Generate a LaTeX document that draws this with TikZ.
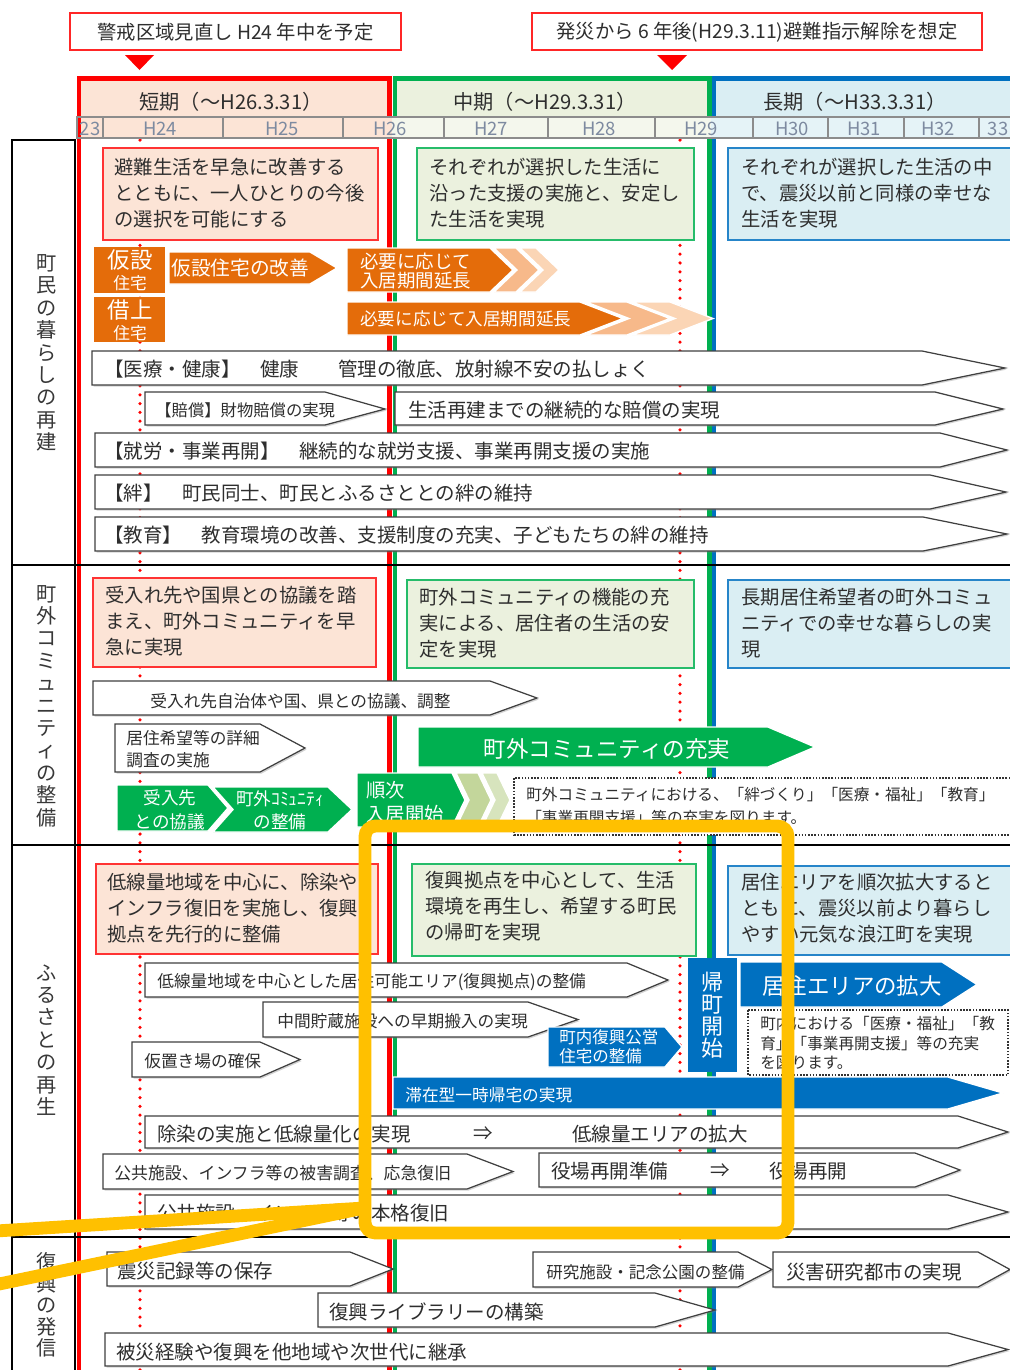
\documentclass[tikz,border=0pt]{standalone}
\usepackage{fontspec}
\setmainfont{Noto Sans CJK JP}
\usetikzlibrary{shadows}

\definecolor{shortred}{RGB}{255,0,0}
\definecolor{midgreen}{RGB}{0,176,80}
\definecolor{longblue}{RGB}{0,112,192}
\definecolor{shortfill}{RGB}{252,228,214}
\definecolor{midfill}{RGB}{235,241,222}
\definecolor{longfill}{RGB}{218,238,243}
\definecolor{orangeA}{RGB}{228,108,10}
\definecolor{orangeB}{RGB}{247,185,138}
\definecolor{orangeC}{RGB}{251,213,181}
\definecolor{greenB}{RGB}{195,214,155}
\definecolor{greenC}{RGB}{215,228,189}
\definecolor{markyellow}{RGB}{255,192,0}
\definecolor{yeargray}{RGB}{125,138,160}

\begin{document}
\begin{tikzpicture}[x=0.02cm, y=-0.02cm,
    goalshort/.style={draw=shortred!80, fill=shortfill, line width=0.8pt},
    goalmid/.style={draw=midgreen!85, fill=midfill, line width=0.8pt},
    goallong/.style={draw=longblue!85, fill=longfill, line width=0.8pt},
    goaltxt/.style={anchor=west, inner sep=0pt, align=left, text=black!82, font=\fontsize{11}{14.8}\selectfont},
    wbar/.style={draw=black!75, fill=white, line width=0.7pt, drop shadow={shadow xshift=0.9pt, shadow yshift=-0.9pt, opacity=0.35}},
    obar/.style={fill=orangeA, draw=white, line width=0.8pt},
    obarB/.style={fill=orangeB, draw=white, line width=0.8pt},
    obarC/.style={fill=orangeC, draw=white, line width=0.8pt},
    gbar/.style={fill=midgreen, draw=white, line width=0.8pt},
    bbar/.style={fill=longblue, draw=white, line width=0.8pt},
    atxt/.style={anchor=west, inner sep=0pt, text=black!82, font=\fontsize{11.1}{13}\selectfont},
    stxt/.style={anchor=west, inner sep=0pt, align=left, text=black!82, font=\fontsize{9.5}{12.5}\selectfont},
    ntxt/.style={anchor=west, inner sep=0pt, align=left, text=black!82, font=\fontsize{8.9}{11}\selectfont},
    wtxt/.style={inner sep=0pt, text=white, font=\fontsize{11}{13}\selectfont},
    notebox/.style={draw=black!80, fill=white, line width=0.6pt, dash pattern=on 0.9pt off 0.9pt},
    reddots/.style={shortred, line width=2pt, line cap=round, dash pattern=on 0pt off 5pt},
    markline/.style={markyellow, line width=7.3pt, line cap=round},
    vlabel/.style={align=center, inner sep=0pt, text=black!78, font=\fontsize{11.5}{12.75}\selectfont},
    ytext/.style={inner sep=0pt, text=yeargray, font=\fontsize{10.5}{11}\selectfont},
    yeargrid/.style={draw=black!45, line width=0.7pt},
    toptxt/.style={inner sep=0pt, text=black!82, font=\fontsize{11}{13}\selectfont},
  ]
\useasboundingbox (0,0) rectangle (1010,1370);
\fill[white] (0,0) rectangle (1010,1370);

% top notes
\draw[shortred!85, line width=0.8pt] (70,13) rectangle (401,50);
\node[toptxt] (keikai) at (235.5,32) {警戒区域見直し H24 年中を予定};
\fill[shortred] (125,55) -- (154,55) -- (139.5,70) -- cycle;
\draw[shortred!85, line width=0.8pt] (532,13) rectangle (982,50);
\node[toptxt] (kaijo) at (757,32) {発災から 6 年後(H29.3.11)避難指示解除を想定};
\fill[shortred] (657,55) -- (687,55) -- (672,70) -- cycle;

% phase headers
\fill[shortfill] (81,81) rectangle (388,138);
\fill[midfill] (396,81) rectangle (708,138);
\fill[longfill] (714,81) rectangle (1012,138);
\node[toptxt, font=\fontsize{11.5}{13}\selectfont] (tanki) at (231,102) {短期（～H26.3.31）};
\node[toptxt, font=\fontsize{11.5}{13}\selectfont] (chuki) at (545,102) {中期（～H29.3.31）};
\node[toptxt, font=\fontsize{11.5}{13}\selectfont] (choki) at (855,102) {長期（～H33.3.31）};

\draw[reddots] (140,140) -- (140,1370);
\draw[reddots] (680,140) -- (680,1370);

\draw[longblue, line width=2.8pt] (714,1372) -- (714,78.5) -- (1015,78.5);
\draw[shortred, line width=2.8pt] (79,1372) -- (79,78.5) -- (389.5,78.5) -- (389.5,1372);
\draw[midgreen, line width=2.8pt] (395,1372) -- (395,78.5) -- (709.5,78.5) -- (709.5,1372);

% year row
\fill[shortfill] (82,117) rectangle (392,138);
\fill[midfill!55!white] (392,117) rectangle (711,138);
\fill[longfill!70!white] (711,117) rectangle (1015,138);
\foreach \a/\b in {77/103,103/223,223/343,343/444,444/548,548/655,655/753,753/828,828/904,904/979,979/1015}
  \draw[yeargrid] (\a,117) rectangle (\b,138);
\foreach \x/\yr [count=\i] in {90/23,160/H24,282/H25,390/H26,491/H27,599/H28,701/H29,792/H30,864/H31,938/H32,998/33}
  \node[ytext] (yr\i) at (\x,128.5) {\yr};

\draw[black, line width=0.8pt] (12,1375) -- (12,140) -- (75,140) -- (75,1375);
\foreach \y in {565,845,1237}
  \draw[black, line width=1.2pt] (12,\y) -- (1015,\y);

\node[vlabel] (rowA) at (47,353) {町\\民\\の\\暮\\ら\\し\\の\\再\\建};
\node[vlabel] (rowB) at (47,706) {町\\外\\コ\\ミ\\ュ\\ニ\\テ\\ィ\\の\\整\\備};
\node[vlabel] (rowC) at (47,1040) {ふ\\る\\さ\\と\\の\\再\\生};
\node[vlabel, font=\fontsize{11.5}{12.2}\selectfont] (rowD) at (47,1305) {復\\興\\の\\発\\信};

% row 1
\draw[goalshort] (103,148) rectangle (378,240);
\node[goaltxt] (goalA1) at (114,193) {避難生活を早急に改善する\\とともに、一人ひとりの今後\\の選択を可能にする};
\draw[goalmid] (417,148) rectangle (694,240);
\node[goaltxt] (goalA2) at (429,193) {それぞれが選択した生活に\\沿った支援の実施と、安定し\\た生活を実現};
\draw[goallong] (728,148) rectangle (1015,240);
\node[goaltxt] (goalA3) at (741,193) {それぞれが選択した生活の中\\で、震災以前と同様の幸せな\\生活を実現};

\fill[orangeA] (94,247) rectangle (165,293);
\node[wtxt, font=\fontsize{12.8}{14}\selectfont] (kasetsu) at (130,260) {仮設};
\node[wtxt, font=\fontsize{9.5}{11}\selectfont] (kasetsuB) at (130,283) {住宅};
\fill[orangeA] (94,297) rectangle (165,342);
\node[wtxt, font=\fontsize{12.8}{14}\selectfont] (kariage) at (130,310) {借上};
\node[wtxt, font=\fontsize{9.5}{11}\selectfont] (kariageB) at (130,333) {住宅};
\draw[obar] (169,252) -- (310,252) -- (337,268) -- (310,284) -- (169,284) -- cycle;
\node[wtxt, anchor=west, font=\fontsize{11.2}{13}\selectfont] (kaizen) at (171,268) {仮設住宅の改善};
\draw[obar] (347,248) -- (490,248) -- (513,270) -- (490,292) -- (347,292) -- cycle;
\draw[obarB] (494,248) -- (516,248) -- (539,270) -- (516,292) -- (494,292) -- (517,270) -- cycle;
\draw[obarC] (520,248) -- (536,248) -- (559,270) -- (536,292) -- (520,292) -- (543,270) -- cycle;
\node[wtxt, anchor=west, align=left, font=\fontsize{10.5}{11.3}\selectfont] (enchoA) at (360,271) {必要に応じて\\入居期間延長};
\draw[obar] (347,302) -- (580,302) -- (623,318.5) -- (580,335) -- (347,335) -- cycle;
\draw[obarB] (586,302) -- (627,302) -- (670,318.5) -- (627,335) -- (586,335) -- (629,318.5) -- cycle;
\draw[obarC] (632,302) -- (670,302) -- (713,318.5) -- (670,335) -- (632,335) -- (675,318.5) -- cycle;
\node[wtxt, anchor=west, font=\fontsize{10}{12}\selectfont] (enchoB) at (360,319) {必要に応じて入居期間延長};

\draw[wbar] (92,351) -- (922,351) -- (1005,368) -- (922,385) -- (92,385) -- cycle;
\node[atxt] (iryo) at (104,369) {【医療・健康】　健康　　管理の徹底、放射線不安の払しょく};
\draw[wbar] (145,392) -- (325,392) -- (385,409) -- (325,425) -- (145,425) -- cycle;
\node[stxt, font=\fontsize{9.3}{11}\selectfont] (baishoA) at (155,410) {【賠償】財物賠償の実現};
\draw[wbar] (395,392) -- (935,392) -- (1003,409) -- (935,425) -- (395,425) -- cycle;
\node[atxt] (baishoB) at (408,410) {生活再建までの継続的な賠償の実現};
\draw[wbar] (95,433) -- (940,433) -- (1007,450) -- (940,467) -- (95,467) -- cycle;
\node[atxt] (shuro) at (104,451) {【就労・事業再開】　継続的な就労支援、事業再開支援の実施};
\draw[wbar] (95,475) -- (930,475) -- (1006,492) -- (930,509) -- (95,509) -- cycle;
\node[atxt] (kizuna) at (104,493) {【絆】　町民同士、町民とふるさととの絆の維持};
\draw[wbar] (95,517) -- (923,517) -- (1007,534) -- (923,551) -- (95,551) -- cycle;
\node[atxt] (kyoiku) at (104,535) {【教育】　教育環境の改善、支援制度の充実、子どもたちの絆の維持};

% row 2
\draw[goalshort] (93,578) rectangle (376,667);
\node[goaltxt] (goalB1) at (105,621) {受入れ先や国県との協議を踏\\まえ、町外コミュニティを早\\急に実現};
\draw[goalmid] (407,580) rectangle (694,668);
\node[goaltxt] (goalB2) at (419,623) {町外コミュニティの機能の充\\実による、居住者の生活の安\\定を実現};
\draw[goallong] (728,580) rectangle (1015,668);
\node[goaltxt] (goalB3) at (741,623) {長期居住希望者の町外コミュ\\ニティでの幸せな暮らしの実\\現};

\draw[wbar] (93,681) -- (490,681) -- (537,698) -- (490,715) -- (93,715) -- cycle;
\node[stxt] (kyogi) at (150,701) {受入れ先自治体や国、県との協議、調整};
\draw[wbar] (115,724) -- (260,724) -- (305,748) -- (260,772) -- (115,772) -- cycle;
\node[stxt] (chosa) at (126,749) {居住希望等の詳細\\調査の実施};
\draw[gbar] (418,727) -- (768,727) -- (815,747) -- (768,767) -- (418,767) -- cycle;
\node[wtxt, font=\fontsize{12.8}{14}\selectfont] (juujitsu) at (607,749) {町外コミュニティの充実};
\draw[gbar] (117,785) -- (208,785) -- (228,808) -- (208,831) -- (117,831) -- cycle;
\node[wtxt, align=center, font=\fontsize{10}{13.6}\selectfont] (ukeire) at (170,810) {受入先\\との協議};
\draw[gbar] (213,787) -- (328,787) -- (352,809.5) -- (328,832) -- (213,832) -- (233,809.5) -- cycle;
\node[wtxt, align=center, font=\fontsize{10}{13}\selectfont] (seibi) at (280,810) {町外ｺﾐｭﾆﾃｨ\\の整備};
\draw[gbar] (357,773) -- (452,773) -- (465,800) -- (452,827) -- (357,827) -- cycle;
\draw[gbar, fill=greenB] (456,773) -- (478,773) -- (491,800) -- (478,827) -- (456,827) -- (469,800) -- cycle;
\draw[gbar, fill=greenC] (482,773) -- (497,773) -- (510,800) -- (497,827) -- (482,827) -- (495,800) -- cycle;
\node[wtxt, anchor=west, align=left, font=\fontsize{11}{14}\selectfont] (junji) at (366,802) {順次\\入居開始};
\draw[notebox] (514,778) rectangle (1015,835);
\node[ntxt, font=\fontsize{8.9}{13}\selectfont] (noteB) at (526,806) {町外コミュニティにおける、「絆づくり」「医療・福祉」「教育」\\「事業再開支援」等の充実を図ります。};

% row 3
\draw[goalshort] (96,864) rectangle (378,954);
\node[goaltxt] (goalC1) at (107,908) {低線量地域を中心に、除染や\\インフラ復旧を実施し、復興\\拠点を先行的に整備};
\draw[goalmid] (412,864) rectangle (696,956);
\node[goaltxt] (goalC2) at (425,906) {復興拠点を中心として、生活\\環境を再生し、希望する町民\\の帰町を実現};
\draw[goallong] (728,866) rectangle (1015,955);
\node[goaltxt] (goalC3) at (741,908) {居住エリアを順次拡大すると\\ともに、震災以前より暮らし\\やすい元気な浪江町を実現};

\draw[wbar] (145,963) -- (627,963) -- (668,980) -- (627,997) -- (145,997) -- cycle;
\node[stxt] (kyoten) at (157,982) {低線量地域を中心とした居住可能エリア(復興拠点)の整備};
\draw[wbar] (263,1002) -- (528,1002) -- (578,1019.5) -- (528,1037) -- (263,1037) -- cycle;
\node[stxt] (chukan) at (277,1021) {中間貯蔵施設への早期搬入の実現};
\draw[wbar] (132,1042) -- (260,1042) -- (300,1059.5) -- (260,1077) -- (132,1077) -- cycle;
\node[stxt] (karioki) at (144,1061) {仮置き場の確保};
\draw[bbar] (548,1027) -- (665,1027) -- (682,1047) -- (665,1067) -- (548,1067) -- cycle;
\node[wtxt, anchor=west, align=left, font=\fontsize{9.4}{10.8}\selectfont] (koei) at (559,1047) {町内復興公営\\住宅の整備};
\fill[longblue] (688,958) rectangle (737,1072);
\node[wtxt, align=center, font=\fontsize{12.5}{12.6}\selectfont] (kicho) at (712.5,1015) {帰\\町\\開\\始};
\draw[bbar] (740,962) -- (942,962) -- (977,984.5) -- (942,1007) -- (740,1007) -- cycle;
\node[wtxt, font=\fontsize{12.8}{14}\selectfont] (kakudai) at (852,986) {居住エリアの拡大};
\draw[notebox] (748,1010) rectangle (1008,1075);
\node[ntxt] (noteC) at (760,1043) {町内における「医療・福祉」「教\\育」「事業再開支援」等の充実\\を図ります。};
\draw[bbar] (393,1077) -- (948,1077) -- (1003,1093) -- (948,1109) -- (393,1109) -- cycle;
\node[wtxt, anchor=west, font=\fontsize{9.5}{11}\selectfont] (taizai) at (405,1095) {滞在型一時帰宅の実現};
\draw[wbar] (145,1116) -- (958,1116) -- (1008,1132) -- (958,1148) -- (145,1148) -- cycle;
\node[atxt] (josen) at (157,1134) {除染の実施と低線量化の実現};
\node[atxt, anchor=center] (josenTo) at (483,1134) {⇒};
\node[atxt] (teisen) at (572,1134) {低線量エリアの拡大};
\draw[wbar] (103,1154) -- (467,1154) -- (513,1171.5) -- (467,1189) -- (103,1189) -- cycle;
\node[stxt, font=\fontsize{9.6}{11}\selectfont] (okyu) at (114,1173) {公共施設、インフラ等の被害調査、応急復旧};
\draw[wbar] (539,1153) -- (915,1153) -- (960,1170) -- (915,1187) -- (539,1187) -- cycle;
\node[atxt] (junbi) at (551,1171) {役場再開準備};
\node[atxt, anchor=center] (junbiTo) at (720,1171) {⇒};
\node[atxt] (yakuba) at (769,1171) {役場再開};
\draw[wbar] (145,1195) -- (948,1195) -- (1008,1212) -- (948,1229) -- (145,1229) -- cycle;
\node[atxt] (honkaku) at (157,1213) {公共施設、インフラ等の本格復旧};

% row 4
\draw[wbar] (107,1252) -- (350,1252) -- (393,1269) -- (350,1286) -- (107,1286) -- cycle;
\node[atxt] (kiroku) at (117,1271) {震災記録等の保存};
\draw[wbar] (533,1252) -- (738,1252) -- (772,1269.5) -- (738,1287) -- (533,1287) -- cycle;
\node[stxt, font=\fontsize{9.4}{11}\selectfont] (kinen) at (546,1272) {研究施設・記念公園の整備};
\draw[wbar] (773,1252) -- (978,1252) -- (1010,1269.5) -- (978,1287) -- (773,1287) -- cycle;
\node[atxt] (toshi) at (786,1272) {災害研究都市の実現};
\draw[wbar] (318,1293) -- (655,1293) -- (715,1310) -- (655,1327) -- (318,1327) -- cycle;
\node[atxt] (library) at (329,1312) {復興ライブラリーの構築};
\draw[wbar] (105,1333) -- (948,1333) -- (1008,1349.5) -- (948,1366) -- (105,1366) -- cycle;
\node[atxt] (keisho) at (116,1352) {被災経験や復興を他地域や次世代に継承};

% highlight
\draw[markline, rounded corners=6pt] (365,826) rectangle (788,1233);
\draw[markline] (-20,1232) -- (364,1208);
\draw[markline] (-20,1288) -- (364,1208);
\end{tikzpicture}
\end{document}
